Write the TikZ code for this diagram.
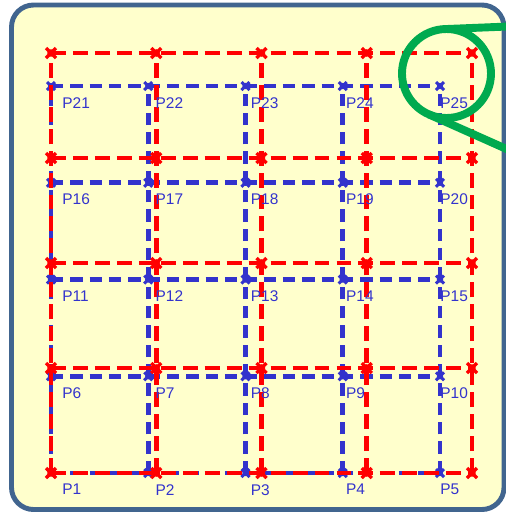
\documentclass[tikz,border=0pt]{standalone}
\usepackage{fontspec}
\setmainfont{Liberation Sans}
\usetikzlibrary{calc}
\definecolor{cred}{HTML}{FF0000}
\definecolor{cblue}{HTML}{3333CC}
\definecolor{cgreen}{HTML}{00AA4F}
\definecolor{cframe}{HTML}{41658F}
\definecolor{cpaper}{HTML}{FFFFCC}
\tikzset{
  frame/.style={draw=cframe, fill=cpaper, line width=2.8pt, rounded corners=0.44cm},
  redgrid/.style={draw=cred, line width=2.8pt, dash pattern=on 8.5pt off 4pt},
  bluegrid/.style={draw=cblue, line width=2.7pt, dash pattern=on 7pt off 4pt},
  plabel/.style={text=cblue, font=\fontsize{8.8}{10}\selectfont, anchor=north west, inner sep=0pt},
  lens/.style={draw=cgreen, line width=4.5pt},
}

\begin{document}
\begin{tikzpicture}[x=0.02cm, y=-0.02cm]
  \useasboundingbox (0,0) rectangle (506,512);
  \clip (0,0) rectangle (506,512);
  \draw[frame] (11.5,5) rectangle (504,509.5);
  % grid points
  \foreach \i in {1,...,5}
    \foreach \j in {1,...,5} {
      \coordinate (b-\i-\j) at ({51+97.25*(\i-1)}, {473-96.75*(\j-1)});
      \coordinate (r-\i-\j) at ({51+105.25*(\i-1)}, {473-105*(\j-1)});
    }
  % blue grid
  \foreach \k in {1,...,5} {
    \draw[bluegrid] (b-1-\k) -- (b-5-\k);
    \draw[bluegrid] (b-\k-1) -- (b-\k-5);
  }
  \foreach \i in {1,...,5}
    \foreach \j in {1,...,5} {
      \fill[cblue] (b-\i-\j) circle (3.2);
      \draw[cblue, line width=1.8pt] (b-\i-\j) +(-4,-4) -- +(4,4) +(-4,4) -- +(4,-4);
    }
  % red grid
  \foreach \k in {1,...,5} {
    \draw[redgrid] (r-1-\k) -- (r-5-\k);
    \draw[redgrid] (r-\k-1) -- (r-\k-5);
  }
  \foreach \i in {1,...,5}
    \foreach \j in {1,...,5} {
      \fill[cred] (r-\i-\j) circle (3.8);
      \draw[cred, line width=2pt] (r-\i-\j) +(-5,-5) -- +(5,5) +(-5,5) -- +(5,-5);
    }
  % labels
  \foreach \j in {1,...,5}
    \foreach \i/\dx in {1/11,2/7,3/5,4/3,5/0} {
      \pgfmathtruncatemacro{\n}{5*(\j-1)+\i}
      \node[plabel] (p\n) at ($(b-\i-\j)+(\dx,11)$) {P\n};
    }
  % zoom lens
  \coordinate (lens) at (446.5,73.5);
  \draw[lens] (lens) circle (44.5);
  \draw[lens] (446.5,29) -- (520,26);
  \draw[lens] (428.4,114.2) -- (520,155);
\end{tikzpicture}
\end{document}
